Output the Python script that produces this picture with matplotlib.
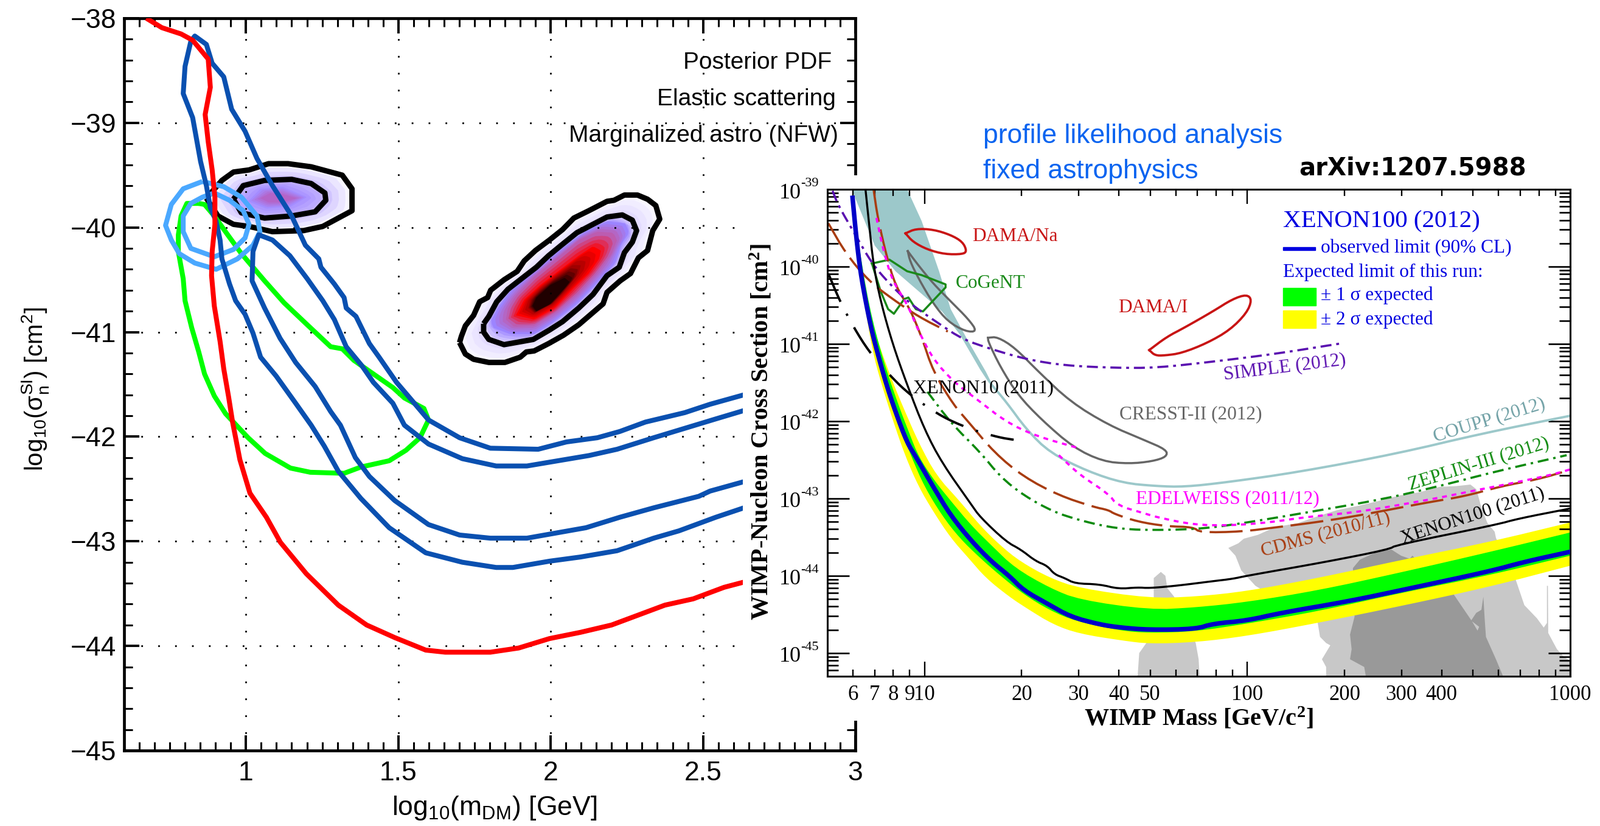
"""Posterior PDF vs. XENON100 (2012) limit plot, two panels side by side."""
import numpy as np
import matplotlib
matplotlib.use("Agg")
import matplotlib.pyplot as plt
from matplotlib.patches import Rectangle
from matplotlib.ticker import LogLocator, NullFormatter

W, H = 2630, 1357
plt.rcParams["mathtext.default"] = "regular"
SANS = "Liberation Sans"
SERIF = "Liberation Serif"

# ---------- left panel, log10(m) / log10(sigma) ----------
red_x = [.673, .724, .787, .825, .876, .883, .866, .876, .889, .898, .898, .889, .887, .896, .915, .927, .943,
         .956, .980, 1.013, 1.067, 1.113, 1.198, 1.303, 1.396, 1.488, 1.590, 1.654, 1.802, 1.895, 1.996, 2.098,
         2.200, 2.283, 2.375, 2.468, 2.569, 2.634]
red_y = [-38, -38.09, -38.15, -38.21, -38.39, -38.66, -38.92, -39.18, -39.45, -39.71, -39.97, -40.23, -40.46,
         -40.75, -41.09, -41.35, -41.62, -41.86, -42.22, -42.54, -42.77, -43.01, -43.31, -43.61, -43.80, -43.92,
         -44.04, -44.06, -44.06, -44.02, -43.93, -43.87, -43.80, -43.71, -43.61, -43.55, -43.44, -43.39]

outer_lo_x = [.819, .800, .794, .825, .838, .851, .870, .883, .902, .915, .921, .946, .966, .997, 1.023, 1.048,
              1.099, 1.163, 1.214, 1.257, 1.303, 1.377, 1.470, 1.590, 1.710, 1.821, 1.876, 1.996, 2.098, 2.218,
              2.338, 2.421, 2.542, 2.634]
outer_lo_y = [-38.22, -38.46, -38.72, -38.95, -39.16, -39.37, -39.60, -39.81, -39.94, -40.12, -40.30, -40.54,
              -40.70, -40.83, -41.01, -41.24, -41.42, -41.68, -41.89, -42.09, -42.33, -42.59, -42.87, -43.11,
              -43.20, -43.25, -43.25, -43.19, -43.15, -43.09, -42.97, -42.90, -42.77, -42.68]
outer_up_x = [.832, .870, .889, .927, .953, .997, 1.036, 1.087, 1.150, 1.195, 1.239, 1.246, 1.290, 1.322, 1.329,
              1.361, 1.405, 1.437, 1.494, 1.535, 1.599, 1.701, 1.802, 1.959, 2.052, 2.153, 2.227, 2.311, 2.440,
              2.523, 2.634]
outer_up_y = [-38.17, -38.25, -38.43, -38.56, -38.87, -39.08, -39.34, -39.60, -39.89, -40.17, -40.30, -40.38,
              -40.54, -40.67, -40.77, -40.85, -41.11, -41.24, -41.48, -41.62, -41.84, -42.01, -42.11, -42.12,
              -42.05, -42.01, -41.95, -41.86, -41.77, -41.69, -41.60]
inner_lo_x = [1.042, 1.023, 1.020, 1.061, 1.112, 1.163, 1.227, 1.278, 1.310, 1.359, 1.405, 1.488, 1.599, 1.701,
              1.802, 1.922, 2.116, 2.227, 2.338, 2.486, 2.523, 2.634]
inner_lo_y = [-40.07, -40.23, -40.51, -40.77, -41.06, -41.29, -41.52, -41.76, -41.89, -42.20, -42.38, -42.61,
              -42.84, -42.94, -42.97, -42.97, -42.87, -42.77, -42.68, -42.57, -42.52, -42.43]
inner_up_x = [1.042, 1.087, 1.144, 1.201, 1.252, 1.290, 1.329, 1.380, 1.418, 1.482, 1.520, 1.599, 1.710, 1.821,
              1.922, 2.126, 2.218, 2.338, 2.440, 2.542, 2.634]
inner_up_y = [-40.07, -40.12, -40.27, -40.49, -40.70, -40.88, -41.14, -41.32, -41.48, -41.68, -41.89, -42.07,
              -42.21, -42.28, -42.28, -42.18, -42.12, -42.01, -41.92, -41.83, -41.75]

green_x = [.845, .806, .787, .778, .778, .794, .800, .822, .845, .864, .896, .933, 1.007, 1.063, 1.146, 1.211,
           1.322, 1.377, 1.470, 1.525, 1.571, 1.599, 1.584, 1.520, 1.482, 1.418, 1.354, 1.316, 1.278, 1.201,
           1.125, 1.061, .985, .940, .896, .864, .845]
green_y = [-39.77, -39.77, -39.89, -40.07, -40.23, -40.49, -40.70, -40.96, -41.19, -41.40, -41.61, -41.78, -42.01,
           -42.16, -42.30, -42.34, -42.35, -42.29, -42.23, -42.13, -42.01, -41.84, -41.73, -41.63, -41.53, -41.40,
           -41.27, -41.16, -41.14, -40.93, -40.72, -40.51, -40.25, -40.07, -39.89, -39.78, -39.77]

sky_outer_x = [.857, .794, .755, .736, .755, .781, .832, .902, .972, 1.023, 1.046, 1.036, .985, .927, .857]
sky_outer_y = [-39.56, -39.63, -39.78, -39.98, -40.12, -40.25, -40.34, -40.40, -40.30, -40.17, -40.04, -39.89,
               -39.71, -39.61, -39.56]
sky_inner_x = [.896, .857, .819, .794, .794, .819, .896, .959, .997, 1.010, .991, .946, .896]
sky_inner_y = [-39.67, -39.71, -39.77, -39.89, -40.04, -40.20, -40.28, -40.21, -40.10, -39.97, -39.84, -39.74,
               -39.67]

# small posterior island
isl_a_x = [.870, .921, .959, 1.010, 1.074, 1.138, 1.214, 1.265, 1.316, 1.348, 1.348, 1.303, 1.252, 1.189, 1.087,
           1.010, .959, .908]
isl_a_y = [-39.72, -39.55, -39.47, -39.45, -39.39, -39.39, -39.42, -39.46, -39.50, -39.63, -39.84, -39.91, -39.99,
           -40.03, -40.04, -39.99, -39.97, -39.89]
isl_b_x = [.959, .991, 1.061, 1.150, 1.214, 1.259, 1.262, 1.227, 1.150, 1.061, .985]
isl_b_y = [-39.73, -39.60, -39.55, -39.54, -39.58, -39.67, -39.74, -39.85, -39.89, -39.91, -39.86]
isl_c_x = [1.007, 1.047, 1.120, 1.200, 1.147, 1.067]
isl_c_y = [-39.75, -39.63, -39.61, -39.71, -39.80, -39.82]
isl_d_x = [1.047, 1.080, 1.120, 1.167, 1.120, 1.074]
isl_d_y = [-39.72, -39.67, -39.68, -39.72, -39.76, -39.76]

# large posterior island
big_a_x = [1.701, 1.720, 1.747, 1.797, 1.850, 1.900, 1.920, 1.946, 1.993, 2.042, 2.092, 2.132, 2.172, 2.185, 2.228,
           2.262, 2.288, 2.318, 2.335, 2.358, 2.345, 2.318, 2.285, 2.242, 2.208, 2.185, 2.125, 2.076, 2.039, 1.996,
           1.950, 1.913, 1.890, 1.847, 1.803, 1.793, 1.767, 1.747, 1.720, 1.707]
big_a_y = [-41.10, -41.21, -41.26, -41.29, -41.29, -41.24, -41.19, -41.18, -41.11, -41.03, -40.93, -40.83, -40.73,
           -40.62, -40.51, -40.44, -40.29, -40.22, -40.03, -39.92, -39.79, -39.73, -39.69, -39.69, -39.74, -39.75,
           -39.84, -39.91, -40.02, -40.12, -40.22, -40.32, -40.42, -40.50, -40.60, -40.67, -40.71, -40.84, -40.94,
           -41.04]
big_b_x = [1.780, 1.780, 1.797, 1.847, 1.943, 1.996, 2.039, 2.092, 2.139, 2.185, 2.225, 2.242, 2.268, 2.282, 2.268,
           2.235, 2.185, 2.132, 2.086, 2.039, 1.993, 1.953, 1.913, 1.860, 1.823, 1.797]
big_b_y = [-40.92, -41.0, -41.07, -41.12, -41.07, -40.98, -40.90, -40.77, -40.64, -40.46, -40.38, -40.24, -40.14,
           -40.03, -39.93, -39.88, -39.90, -39.98, -40.05, -40.16, -40.27, -40.38, -40.47, -40.59, -40.71, -40.85]
big_c_x = [1.813, 1.867, 1.946, 2.006, 2.086, 2.152, 2.212, 2.232, 2.258, 2.245, 2.185, 2.112, 2.033, 1.953, 1.867,
           1.827, 1.803]
big_c_y = [-40.96, -41.02, -41.02, -40.91, -40.73, -40.53, -40.34, -40.16, -40.05, -39.96, -39.94, -40.04, -40.21,
           -40.40, -40.61, -40.77, -40.90]
big_d_x = [1.853, 1.880, 1.946, 2.019, 2.092, 2.152, 2.199, 2.218, 2.205, 2.152, 2.092, 2.026, 1.946, 1.886, 1.860]
big_d_y = [-40.88, -40.95, -40.94, -40.81, -40.63, -40.44, -40.26, -40.12, -40.05, -40.04, -40.12, -40.28, -40.47,
           -40.65, -40.77]
big_e_x = [1.886, 1.946, 2.013, 2.079, 2.125, 2.159, 2.165, 2.139, 2.092, 2.033, 1.966, 1.913]
big_e_y = [-40.84, -40.88, -40.77, -40.57, -40.44, -40.30, -40.22, -40.18, -40.27, -40.40, -40.55, -40.69]
big_f_x = [1.926, 1.946, 2.006, 2.046, 2.092, 2.099, 2.072, 2.019, 1.966, 1.933]
big_f_y = [-40.77, -40.82, -40.73, -40.61, -40.44, -40.36, -40.36, -40.47, -40.59, -40.69]
big_g_x = [1.940, 1.953, 1.999, 2.046, 2.062, 2.046, 1.999, 1.953]
big_g_y = [-40.75, -40.80, -40.73, -40.58, -40.52, -40.48, -40.55, -40.67]

left_xticks = [1, 1.5, 2, 2.5, 3]
left_xlabels = ["1", "1.5", "2", "2.5", "3"]
left_yticks = [-38, -39, -40, -41, -42, -43, -44, -45]
left_ylabels = ["\u221238", "\u221239", "\u221240", "\u221241", "\u221242", "\u221243", "\u221244", "\u221245"]

# ---------- right panel, all as log10 values ----------
xe12_m = [.777, .788, .801, .819, .837, .855, .882, .910, .946, .973, 1.027, 1.081, 1.145, 1.208, 1.262, 1.307, 1.380,
          1.452, 1.542, 1.606, 1.696, 1.840, 1.893, 1.998, 2.104, 2.314, 2.507, 2.753, 2.858, 3.0]
xe12_s = [-39.11, -39.60, -40.06, -40.48, -40.84, -41.13, -41.53, -41.88, -42.28, -42.46, -42.85, -43.22, -43.55,
          -43.82, -44.00, -44.19, -44.36, -44.53, -44.63, -44.67, -44.70, -44.69, -44.62, -44.58, -44.48, -44.33,
          -44.16, -43.94, -43.82, -43.69]
y2_lo_m = [.781, .815, .837, .855, .901, .941, .982, 1.027, 1.081, 1.136, 1.190, 1.262, 1.316, 1.398, 1.479, 1.615,
           1.696, 1.840, 1.998, 2.218, 2.489, 2.753, 3.0]
y2_lo_s = [-39.60, -40.52, -41.04, -41.36, -41.98, -42.46, -42.85, -43.17, -43.51, -43.77, -44.03, -44.27, -44.42,
           -44.63, -44.75, -44.84, -44.88, -44.86, -44.78, -44.61, -44.38, -44.14, -43.87]
y2_up_m = [.797, .842, .864, .901, .937, .982, 1.036, 1.108, 1.172, 1.235, 1.298, 1.389, 1.479, 1.696, 1.840, 1.998,
           2.218, 2.472, 2.753, 3.0]
y2_up_s = [-39.93, -40.78, -41.07, -41.49, -41.85, -42.28, -42.70, -43.03, -43.35, -43.61, -43.82, -44.03, -44.16,
           -44.29, -44.27, -44.20, -44.03, -43.80, -43.56, -43.31]
g1_lo_m = [.783, .815, .846, .882, .919, .959, 1.0, 1.054, 1.108, 1.172, 1.235, 1.307, 1.389, 1.470, 1.606, 1.696,
           1.840, 1.998, 2.218, 2.489, 2.753, 3.0]
g1_lo_s = [-39.60, -40.48, -41.07, -41.59, -42.01, -42.46, -42.85, -43.22, -43.51, -43.77, -44.00, -44.24, -44.45,
           -44.59, -44.71, -44.74, -44.72, -44.62, -44.46, -44.21, -43.99, -43.74]
g1_up_m = [.792, .828, .873, .919, .955, .982, 1.027, 1.081, 1.145, 1.208, 1.280, 1.389, 1.479, 1.696, 1.840, 1.998,
           2.218, 2.472, 2.753, 3.0]
g1_up_s = [-39.60, -40.52, -41.23, -41.79, -42.18, -42.46, -42.75, -43.03, -43.35, -43.61, -43.90, -44.16, -44.31,
           -44.44, -44.41, -44.34, -44.19, -43.96, -43.69, -43.44]
xe11_m = [.817, .828, .842, .864, .901, .946, 1.0, 1.054, 1.145, 1.172, 1.253, 1.298, 1.344, 1.380, 1.402, 1.434,
          1.466, 1.542, 1.601, 1.660, 1.696, 1.779, 1.893, 1.954, 1.998, 2.244, 2.437, 2.463, 2.770, 2.840, 3.0]
xe11_s = [-39.0, -39.44, -39.99, -40.45, -41.0, -41.53, -42.11, -42.54, -43.08, -43.24, -43.56, -43.66, -43.81, -43.87,
          -43.98, -44.03, -44.10, -44.11, -44.17, -44.15, -44.16, -44.13, -44.07, -44.04, -44.0, -43.82, -43.66,
          -43.60, -43.34, -43.26, -43.13]
coupp_fill_up_m = [.946, .991, 1.045, 1.081, 1.136, 1.190, 1.208]
coupp_fill_up_s = [-39.0, -39.41, -40.06, -40.55, -40.97, -41.36, -41.51]
coupp_fill_lo_m = [.774, .846, .910, .982, 1.054, 1.108, 1.172, 1.208]
coupp_fill_lo_s = [-39.0, -39.73, -40.06, -40.32, -40.58, -40.87, -41.33, -41.56]
coupp_m = [1.208, 1.253, 1.316, 1.389, 1.506, 1.615, 1.718, 1.805, 1.937, 2.156, 2.463, 2.726, 3.0]
coupp_s = [-41.53, -41.75, -42.11, -42.41, -42.65, -42.80, -42.84, -42.85, -42.79, -42.66, -42.42, -42.16, -41.93]
cdms_m = [.842, .855, .882, .910, .955, .991, 1.027, 1.090, 1.136, 1.217, 1.307, 1.416, 1.524, 1.570, 1.588, 1.660,
          1.750, 1.832, 1.854, 1.981, 2.095, 2.209, 2.332, 2.446, 2.560, 2.674, 2.788, 2.902, 3.0]
cdms_s = [-39.0, -39.37, -39.86, -40.25, -40.55, -40.91, -41.36, -41.79, -42.01, -42.41, -42.72, -42.96, -43.11,
          -43.15, -43.20, -43.30, -43.36, -43.37, -43.44, -43.43, -43.37, -43.31, -43.23, -43.14, -43.05, -42.97,
          -42.84, -42.75, -42.63]
cdms_low_m = [.702, .756, .828, .901, .982, 1.072]
cdms_low_s = [-39.44, -39.83, -40.19, -40.42, -40.65, -40.84]
edel_low_m = [.851, .873, .901, .946, .982, 1.027, 1.090, 1.163, 1.253, 1.344, 1.470]
edel_low_s = [-39.37, -39.80, -40.19, -40.48, -40.84, -41.20, -41.49, -41.72, -42.01, -42.19, -42.34]
edel_m = [1.416, 1.479, 1.570, 1.597, 1.687, 1.718, 1.832, 1.946, 2.068, 2.182, 2.332, 2.463, 2.595, 2.700, 2.823,
          2.946, 3.011]
edel_s = [-42.44, -42.69, -42.94, -43.09, -43.20, -43.24, -43.34, -43.35, -43.31, -43.24, -43.18, -43.09, -42.99,
          -42.90, -42.80, -42.69, -42.61]
zep_m = [1.009, 1.081, 1.172, 1.235, 1.307, 1.398, 1.479, 1.570, 1.660, 1.840, 1.972, 2.200, 2.419, 2.595, 2.770,
         2.989]
zep_s = [-41.62, -42.02, -42.40, -42.72, -42.96, -43.17, -43.28, -43.37, -43.41, -43.40, -43.33, -43.17, -43.01,
         -42.84, -42.65, -42.44]
simple_m = [.715, .733, .783, .837, .891, .955, 1.045, 1.118, 1.208, 1.316, 1.434, 1.588, 1.718, 1.893, 2.086, 2.296]
simple_s = [-39.02, -39.21, -39.57, -39.96, -40.22, -40.48, -40.74, -40.94, -41.07, -41.20, -41.28, -41.31, -41.31,
            -41.23, -41.13, -40.99]
xe10_m = [.702, .738, .781, .828, .882, .941, 1.009, 1.072, 1.154, 1.231, 1.276]
xe10_s = [-40.09, -40.45, -40.79, -41.10, -41.36, -41.61, -41.82, -41.98, -42.12, -42.21, -42.24]
dama_na_m = [.941, .973, 1.027, 1.081, 1.118, 1.131, 1.118, 1.063, 1.009, .964, .941]
dama_na_s = [-39.57, -39.51, -39.52, -39.59, -39.68, -39.80, -39.84, -39.84, -39.78, -39.68, -39.57]
dama_i_m = [1.696, 1.750, 1.805, 1.893, 1.954, 1.998, 2.014, 1.998, 1.946, 1.875, 1.796, 1.744, 1.714, 1.696]
dama_i_s = [-41.08, -40.91, -40.79, -40.58, -40.42, -40.36, -40.43, -40.60, -40.82, -40.99, -41.12, -41.15, -41.15,
            -41.08]
cogent_m = [.837, .891, .946, .991, 1.065, 1.065, .995, .973, .950, .937, .905, .887, .864, .837]
cogent_s = [-39.96, -39.91, -40.06, -40.11, -40.23, -40.27, -40.58, -40.55, -40.40, -40.42, -40.61, -40.55, -40.32,
            -39.96]
cresst2_m = [.948, .982, 1.027, 1.081, 1.136, 1.163, 1.127, 1.072, 1.027, .982, .955, .948]
cresst2_s = [-39.80, -39.99, -40.22, -40.45, -40.68, -40.84, -40.84, -40.71, -40.48, -40.16, -39.93, -39.80]
cresst1_m = [1.197, 1.226, 1.280, 1.353, 1.452, 1.570, 1.678, 1.750, 1.750, 1.705, 1.633, 1.552, 1.461, 1.362, 1.289,
             1.235, 1.197, 1.197]
cresst1_s = [-40.92, -40.91, -41.05, -41.36, -41.75, -42.05, -42.24, -42.37, -42.46, -42.52, -42.55, -42.52, -42.34,
             -41.98, -41.66, -41.30, -40.97, -40.92]
# theory regions behind the limits
grey_a_m = [1.660, 1.665, 1.687, 1.710, 1.710, 1.732, 1.746, 1.752, 1.773, 1.840, 1.849, 1.852]
grey_a_s = [-45.30, -45.0, -44.87, -44.29, -44.03, -43.95, -44.0, -44.16, -44.27, -44.87, -45.08, -45.30]
grey_b_m = [1.941, 1.972, 1.989, 2.033, 2.086, 2.156, 2.218, 2.279, 2.349, 2.419, 2.472, 2.533, 2.595, 2.647, 2.691,
            2.709, 2.718, 2.726, 2.744, 2.766, 2.770, 2.832, 2.858, 2.897, 2.918, 2.928, 2.928, 2.931, 2.932, 2.959,
            2.981, 3.0, 3.0, 2.244, 2.244, 2.231, 2.257, 2.244, 2.225, 2.218, 2.025, 1.981, 1.963]
grey_b_s = [-43.64, -43.58, -43.52, -43.47, -43.37, -43.32, -43.23, -43.15, -43.09, -43.02, -42.96, -42.92, -42.85,
            -42.84, -42.82, -42.88, -43.01, -43.14, -43.32, -43.43, -43.51, -44.06, -44.38, -44.55, -44.67, -44.61,
            -44.13, -44.13, -44.74, -44.95, -45.05, -45.10, -45.30, -45.30, -45.18, -45.08, -44.90, -44.87, -44.79,
            -44.61, -44.13, -43.93, -43.74]
grey_c_m = [2.327, 2.349, 2.402, 2.446, 2.476, 2.503, 2.511, 2.639, 2.696, 2.713, 2.718, 2.693, 2.709, 2.725, 2.731,
            2.735, 2.739, 2.770, 2.792, 2.367, 2.362, 2.318, 2.323, 2.318, 2.332]
grey_c_s = [-43.90, -43.79, -43.69, -43.66, -43.74, -43.78, -43.74, -44.24, -44.59, -44.71, -44.66, -44.58, -44.48,
            -44.44, -44.27, -44.55, -44.79, -45.08, -45.30, -45.30, -45.18, -45.08, -44.95, -44.76, -44.53]

right_xmajor = [10, 100, 1000]
right_xmajor_labels = ["10", "100", "1000"]
right_xminor = [6, 7, 8, 9, 20, 30, 40, 50, 60, 70, 80, 90, 200, 300, 400, 500, 600, 700, 800, 900]
right_xminor_labels = ["6", "7", "8", "9", "20", "30", "40", "50", "", "", "", "", "200", "300", "400", "", "", "", "", ""]
right_decades = [-39, -40, -41, -42, -43, -44, -45]


def resample(x, y, n=90):
    x, y = np.r_[x, x[0]], np.r_[y, y[0]]
    d = np.r_[0, np.cumsum(np.hypot(np.diff(x), np.diff(y) / 3))]
    t = np.linspace(0, d[-1], n)
    return np.interp(t, d, x), np.interp(t, d, y)


def shade(ax, rings, colors, steps=5):
    # paint nested rings, blending shape and colour between neighbours
    rings = [resample(*r) for r in rings]
    cols = [np.array(matplotlib.colors.to_rgb(c)) for c in colors]
    for i in range(len(rings) - 1):
        for k in range(steps):
            f = k / steps
            px = (1 - f) * rings[i][0] + f * rings[i + 1][0]
            py = (1 - f) * rings[i][1] + f * rings[i + 1][1]
            ax.fill(px, py, color=(1 - f) * cols[i] + f * cols[i + 1], lw=0, zorder=1)
    ax.fill(rings[-1][0], rings[-1][1], color=cols[-1], lw=0, zorder=1)


def closed(x, y):
    return list(x) + [x[0]], list(y) + [y[0]]


def round_off(m, s, passes=2):
    # corner cutting only, so the drawn lines read smooth like the scan; end points stay put
    m, s = np.asarray(m, float), np.asarray(s, float)
    for _ in range(passes):
        q_m = .75 * m[:-1] + .25 * m[1:]
        r_m = .25 * m[:-1] + .75 * m[1:]
        q_s = .75 * s[:-1] + .25 * s[1:]
        r_s = .25 * s[:-1] + .75 * s[1:]
        m = np.r_[m[0], np.c_[q_m, r_m].ravel(), m[-1]]
        s = np.r_[s[0], np.c_[q_s, r_s].ravel(), s[-1]]
    return m, s


def draw_left(fig):
    ax = fig.add_axes([204 / W, 1 - 1233 / H, 1202 / W, 1203 / H], zorder=1)
    ax.set_xlim(.6, 3)
    ax.set_ylim(-45, -38)
    shade(ax, [(isl_a_x, isl_a_y), (isl_b_x, isl_b_y), (isl_c_x, isl_c_y), (isl_d_x, isl_d_y)],
          ["#f8f6ff", "#c4b4ff", "#a48cff", "#b464c8"], steps=4)
    shade(ax, [(big_a_x, big_a_y), (big_b_x, big_b_y), (big_c_x, big_c_y), (big_d_x, big_d_y),
               (big_e_x, big_e_y), (big_f_x, big_f_y), (big_g_x, big_g_y)],
          ["#f8f6ff", "#dcd2ff", "#9c84ff", "#bc5cb0", "#ff0000", "#a00000", "#200000"], steps=4)
    ax.set_axisbelow(False)
    ax.grid(True, which="major", color="k", ls=(0, (1, 9)), lw=2)
    lw = 5.8
    kw = dict(solid_joinstyle="round", solid_capstyle="butt", zorder=3)
    for xs, ys in [(isl_a_x, isl_a_y), (isl_b_x, isl_b_y), (big_a_x, big_a_y), (big_b_x, big_b_y)]:
        ax.plot(*closed(xs, ys), color="k", lw=6.4, **kw)
    ax.plot(green_x, green_y, color="#00ff00", lw=lw, **kw)
    ax.plot(sky_outer_x, sky_outer_y, color="#4aa8ff", lw=lw, **kw)
    ax.plot(sky_inner_x, sky_inner_y, color="#4aa8ff", lw=lw, **kw)
    for lo_x, lo_y, up_x, up_y in [(outer_lo_x, outer_lo_y, outer_up_x, outer_up_y),
                                   (inner_lo_x, inner_lo_y, inner_up_x, inner_up_y)]:
        ax.plot(lo_x[::-1] + up_x, lo_y[::-1] + up_y, color="#0a50b0", lw=lw, **kw)
    ax.plot(red_x, red_y, color="#ff0000", lw=lw, **kw)

    ax.set_xticks(left_xticks, left_xlabels, fontname=SANS, fontsize=32)
    ax.set_yticks(left_yticks, left_ylabels, fontname=SANS, fontsize=32)
    ax.set_xticks(np.arange(.6, 3.01, .05), minor=True)
    ax.set_yticks(np.arange(-45, -37.99, .2), minor=True)
    ax.tick_params(which="major", direction="in", length=18, width=2.8, top=True, right=True)
    ax.tick_params(which="minor", direction="in", length=10, width=2.2, top=True, right=True)
    ax.tick_params(axis="x", which="major", pad=12)
    ax.tick_params(axis="y", which="major", pad=9)
    for s in ax.spines.values():
        s.set_linewidth(3.4)
    ax.set_xlabel("log$_{10}$(m$_{DM}$) [GeV]", fontname=SANS, fontsize=32)
    ax.xaxis.set_label_coords(.506, -.060)
    fig.text(58 / W, 1 - 639 / H, r"log$_{10}$($\sigma_n^{SI}$) [cm$^2$]", fontname=SANS, fontsize=29,
             rotation=90, ha="center", va="center", zorder=10)
    for txt, x, y in [("Posterior PDF", 1367, 103), ("Elastic scattering", 1374, 163),
                      ("Marginalized astro (NFW)", 1378, 223)]:
        fig.text(x / W, 1 - y / H, txt, fontname=SANS, fontsize=28, ha="right", va="center", zorder=10)


def draw_right(fig):
    bg = fig.add_axes([1221 / W, 1 - 1184 / H, 1409 / W, 896 / H], zorder=2)
    bg.set_axis_off()
    bg.add_patch(Rectangle((0, 0), 1, 1, color="white", transform=bg.transAxes))

    ax = fig.add_axes([1360 / W, 1 - 1111 / H, 1221 / W, 800 / H], zorder=3)
    ax.set_xscale("log")
    ax.set_yscale("log")
    ax.set_xlim(5, 1000)
    ax.set_ylim(10.0 ** -45.3, 1e-39)
    ax.patch.set_alpha(0)

    def P(m, s):
        return 10.0 ** np.array(m), 10.0 ** np.array(s)

    def S(m, s):
        return P(*round_off(m, s))

    def band(up_m, up_s, lo_m, lo_s):
        # round each edge on its own so the square end at 1000 GeV stays square
        um, us = round_off(up_m, up_s)
        lm, ls = round_off(lo_m, lo_s)
        return P(np.r_[um, lm[::-1]], np.r_[us, ls[::-1]])

    ax.fill(*P(grey_a_m, grey_a_s), color="#c8c8c8", lw=0, zorder=1)
    ax.fill(*P(grey_b_m, grey_b_s), color="#c8c8c8", lw=0, zorder=1)
    ax.fill(*P(grey_c_m, grey_c_s), color="#999999", lw=0, zorder=1.1)
    ax.fill(*P(coupp_fill_up_m + coupp_fill_lo_m[::-1], coupp_fill_up_s + coupp_fill_lo_s[::-1]),
            color="#9cc8ca", lw=0, zorder=1.2)
    ax.plot(*S(coupp_m, coupp_s), color="#9cc8ca", lw=2.8, zorder=2)

    ax.plot(*S(cresst2_m, cresst2_s), color="#666666", lw=2.5, zorder=2)
    ax.plot(*S(cresst1_m, cresst1_s), color="#666666", lw=2.5, zorder=2)
    ax.plot(*S(dama_na_m, dama_na_s), color="#c81414", lw=2.7, zorder=2)
    ax.plot(*S(dama_i_m, dama_i_s), color="#c81414", lw=2.7, zorder=2)
    ax.plot(*P(cogent_m, cogent_s), color="#1a8a1a", lw=2.5, zorder=2)

    ax.plot(*S(cdms_m, cdms_s), color="#a83c10", lw=2.6, ls=(0, (15, 3.5)), zorder=2.2)
    ax.plot(*S(cdms_low_m, cdms_low_s), color="#a83c10", lw=2.6, ls=(0, (15, 3.5)), zorder=2.2)
    ax.plot(*S(edel_low_m, edel_low_s), color="#ff00ff", lw=2.6, ls=(0, (2.2, 2.2)), zorder=2.3)
    ax.plot(*S(edel_m, edel_s), color="#ff00ff", lw=2.6, ls=(0, (2.2, 2.2)), zorder=2.3, clip_on=False)
    ax.plot(*S(zep_m, zep_s), color="#0d8a0d", lw=2.6, ls=(0, (5, 2.2, 1.1, 2.2)), zorder=2.2)
    ax.plot(*S(simple_m, simple_s), color="#5a10b0", lw=2.6, ls=(0, (5, 2.2, 1.3, 2.2)), zorder=2.2)
    ax.plot(*S(xe10_m, xe10_s), color="k", lw=2.8, ls=(0, (13, 5.6, 1, 5.6)), zorder=2.4)

    ax.fill(*band(y2_up_m, y2_up_s, y2_lo_m, y2_lo_s), color="#ffff00", lw=0, zorder=1.5)
    ax.fill(*band(g1_up_m, g1_up_s, g1_lo_m, g1_lo_s), color="#00ff00", lw=0, zorder=1.6)
    ax.plot(*S(xe11_m, xe11_s), color="k", lw=2.4, zorder=2.5)
    ax.plot(*S(xe12_m, xe12_s), color="#0000c8", lw=5.4, zorder=2.6)

    ax.set_xticks(right_xmajor, right_xmajor_labels, fontname=SERIF, fontsize=25)
    ax.set_xticks(right_xminor, right_xminor_labels, minor=True, fontname=SERIF, fontsize=25)
    ax.set_yticks([10.0 ** e for e in right_decades], [""] * len(right_decades))
    ax.yaxis.set_minor_locator(LogLocator(base=10, subs=np.arange(2, 10), numticks=100))
    ax.yaxis.set_minor_formatter(NullFormatter())
    ax.tick_params(axis="x", which="major", direction="in", length=17, width=1.7, top=True, pad=10)
    ax.tick_params(axis="x", which="minor", direction="in", length=8, width=1.7, top=True, pad=10)
    ax.tick_params(axis="y", which="major", direction="in", length=26, width=1.9, right=True)
    ax.tick_params(axis="y", which="minor", direction="in", length=13, width=1.9, right=True)
    for s in ax.spines.values():
        s.set_linewidth(2.2)
    for e in right_decades:
        ax.annotate("10", xy=(0, 10.0 ** e), xycoords=ax.get_yaxis_transform(), xytext=(-43, -6),
                    textcoords="offset pixels", ha="right", va="center", fontname=SERIF, fontsize=26)
        ax.annotate(str(e), xy=(0, 10.0 ** e), xycoords=ax.get_yaxis_transform(), xytext=(-44, 9),
                    textcoords="offset pixels", ha="left", va="center", fontname=SERIF, fontsize=16)

    def T(x, y, s, size=22, color="k", rot=0, **kw):
        fig.text(x / W, 1 - y / H, s, fontname=SERIF, fontsize=size, color=color, rotation=rot,
                 rotation_mode="anchor", va="center", zorder=10, **kw)

    T(1251, 709, "WIMP-Nucleon Cross Section [cm$^{2}$]", 29, rot=90, ha="center", weight="bold")
    T(1970, 1180, "WIMP Mass [GeV/c$^{2}$]", 29, ha="center", weight="bold")
    T(1668, 389, "DAMA/Na", 22.5, "#c81414", ha="center")
    T(1628, 465, "CoGeNT", 22.5, "#1a8a1a", ha="center")
    T(1838, 505, "DAMA/I", 22.5, "#c81414")
    T(1616, 638, "XENON10 (2011)", 22.5, "k", ha="center")
    T(1957, 681, "CRESST-II (2012)", 22.5, "#666666", ha="center")
    T(2018, 820, "EDELWEISS (2011/12)", 22.5, "#ff00ff", ha="center")
    T(2112, 603, "SIMPLE (2012)", 22.5, "#5a10b0", rot=7, ha="center")
    T(2448, 690, "COUPP (2012)", 22.5, "#6fa0a5", rot=17, ha="center")
    T(2431, 762, "ZEPLIN-III (2012)", 22.5, "#0d8a0d", rot=17, ha="center")
    T(2179, 878, "CDMS (2010/11)", 22.5, "#a83c10", rot=15, ha="center")
    T(2421, 847, "XENON100 (2011)", 22.5, "k", rot=18, ha="center")
    T(2109, 364, "XENON100 (2012)", 29.5, "#0000e0")
    T(2171, 408, "observed limit (90% CL)", 22.5, "#0000e0")
    T(2109, 447, "Expected limit of this run:", 22.5, "#0000e0")
    T(2171, 485, "\u00b1 1 \u03c3 expected", 22.5, "#0000e0")
    T(2171, 525, "\u00b1 2 \u03c3 expected", 22.5, "#0000e0")
    fig.patches.append(Rectangle((2109 / W, 1 - 411 / H), 53 / W, 5 / H, color="#0000e0", zorder=10,
                                 transform=fig.transFigure, figure=fig))
    fig.patches.append(Rectangle((2109 / W, 1 - 502 / H), 54 / W, 29 / H, color="#00ff00", zorder=10,
                                 transform=fig.transFigure, figure=fig))
    fig.patches.append(Rectangle((2109 / W, 1 - 539 / H), 54 / W, 29 / H, color="#ffff00", zorder=10,
                                 transform=fig.transFigure, figure=fig))

    for txt, y in [("profile likelihood analysis", 224), ("fixed astrophysics", 282)]:
        fig.text(1616 / W, 1 - y / H, txt, fontname=SANS, fontsize=32, color="#0a64f0", va="center", zorder=10)
    fig.text(2135 / W, 1 - 277 / H, "arXiv:1207.5988", family="DejaVu Sans", weight="bold", fontsize=29,
             va="center", zorder=10)


def main():
    fig = plt.figure(figsize=(W / 100, H / 100), dpi=100, facecolor="white")
    draw_left(fig)
    draw_right(fig)
    fig.savefig("out.png", dpi=100)


if __name__ == "__main__":
    main()
